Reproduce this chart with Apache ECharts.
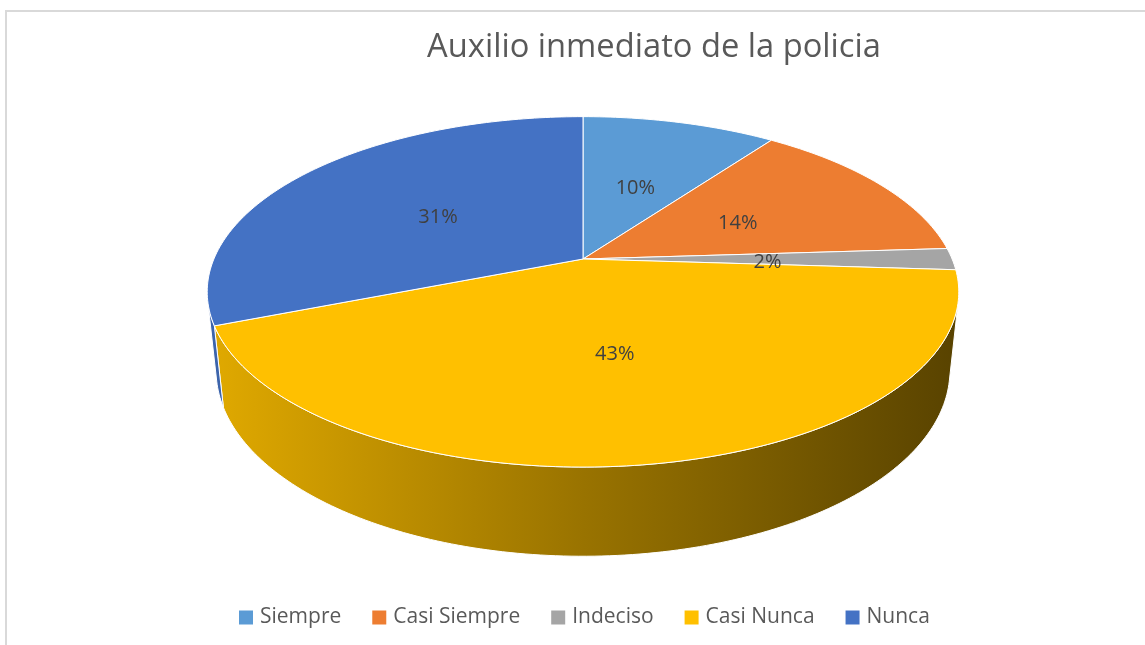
<!DOCTYPE html>
<html>
<head>
<meta charset="utf-8">
<script src="https://cdn.jsdelivr.net/npm/echarts@6/dist/echarts.min.js"></script>
<style>
html,body{margin:0;padding:0;background:#fff;}
#chart{width:1145px;height:645px;}
</style>
</head>
<body>
<div id="chart"></div>
<script>
const titleText = 'Auxilio inmediato de la policia';
const categories = ['Siempre', 'Casi Siempre', 'Indeciso', 'Casi Nunca', 'Nunca'];
const values = [10, 14, 2, 43, 31];
const colors = ['#5B9BD5', '#ED7D31', '#A5A5A5', '#FFC000', '#4472C4'];

const total = values.reduce((a, b) => a + b, 0);

// 3D projection of a tilted disk (perspective)
const CX = 583, CY = 259, F = 1750, D = 4.741;
const COS = 0.8889, SIN = 0.458, THICK = 0.242;
function proj(x, y, z) {
  const depth = D - y * SIN - z * COS;
  return [CX + F * x / depth, CY - F * (y * COS - z * SIN) / depth];
}
const visLimit = Math.asin(1 / (D * COS)) * 180 / Math.PI;

function shade(hex, f) {
  const n = parseInt(hex.slice(1), 16);
  const r = Math.round(((n >> 16) & 255) * f), g = Math.round(((n >> 8) & 255) * f), b = Math.round((n & 255) * f);
  return 'rgb(' + r + ',' + g + ',' + b + ')';
}
const rad = d => d * Math.PI / 180;

function renderItem(params, api) {
  const v = api.value(0);
  const i = api.value(1);
  let before = 0;
  for (let k = 0; k < i; k++) before += values[k];
  const a1 = -90 + before / total * 360;
  const a2 = a1 + v / total * 360;
  const color = colors[i];
  const children = [];

  // outer wall (visible part only)
  const w1 = Math.max(a1, visLimit), w2 = Math.min(a2, 180 - visLimit);
  if (w2 > w1) {
    const pts = [];
    const n = Math.max(2, Math.ceil(w2 - w1));
    for (let s = 0; s <= n; s++) {
      const a = rad(w1 + (w2 - w1) * s / n);
      pts.push(proj(Math.cos(a), 0, Math.sin(a)));
    }
    for (let s = n; s >= 0; s--) {
      const a = rad(w1 + (w2 - w1) * s / n);
      pts.push(proj(Math.cos(a), -THICK, Math.sin(a)));
    }
    children.push({
      type: 'polygon', z2: 1,
      shape: { points: pts },
      style: {
        fill: { type: 'linear', x: 212, y: 0, x2: 955, y2: 0, global: true,
          colorStops: [{ offset: 0, color: shade(color, 0.88) }, { offset: 0.5, color: shade(color, 0.6) }, { offset: 1, color: shade(color, 0.35) }] },
        stroke: '#ffffff', lineWidth: 1
      }
    });
  }

  // top face
  const top = [proj(0, 0, 0)];
  const n2 = Math.max(2, Math.ceil(a2 - a1));
  for (let s = 0; s <= n2; s++) {
    const a = rad(a1 + (a2 - a1) * s / n2);
    top.push(proj(Math.cos(a), 0, Math.sin(a)));
  }
  children.push({
    type: 'polygon', z2: 10,
    shape: { points: top },
    style: { fill: color, stroke: '#ffffff', lineWidth: 1 }
  });

  // label
  const am = rad((a1 + a2) / 2);
  const lp = proj(0.5 * Math.cos(am), 0, 0.5 * Math.sin(am));
  children.push({
    type: 'text', z2: 20,
    x: lp[0], y: lp[1] + 3,
    style: {
      text: Math.round(v / total * 100) + '%',
      fill: '#404040', fontSize: 20, fontFamily: 'Open Sans',
      align: 'center', verticalAlign: 'middle'
    }
  });
  return { type: 'group', children: children };
}

const chart = echarts.init(document.getElementById('chart'));
chart.setOption({
  animation: false,
  title: {
    text: titleText, left: 649, top: 26, textAlign: 'center',
    textStyle: { fontFamily: 'Open Sans', fontSize: 32.7, fontWeight: 'normal', color: '#595959' }
  },
  legend: {
    data: categories, left: 234, top: 602, icon: 'rect',
    itemWidth: 14, itemHeight: 14, itemGap: 31,
    textStyle: { fontFamily: 'Open Sans', fontSize: 21, color: '#595959', padding: [0, 0, 0, 2] }
  },
  graphic: [{
    type: 'rect', silent: true,
    shape: { x: 6, y: 11, width: 1200, height: 700 },
    style: { fill: 'none', stroke: '#D9D9D9', lineWidth: 2 }
  }],
  series: categories.map((name, i) => ({
    type: 'custom', name: name, coordinateSystem: 'none',
    itemStyle: { color: colors[i] },
    data: [[values[i], i]],
    renderItem: renderItem
  }))
});
</script>
</body>
</html>
